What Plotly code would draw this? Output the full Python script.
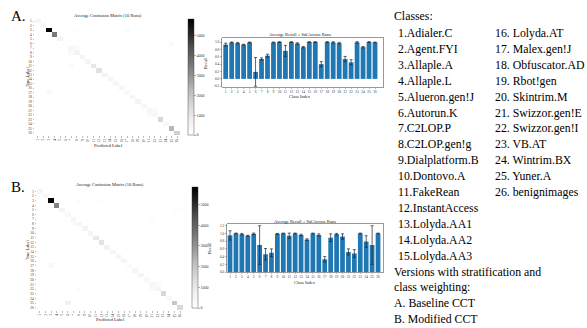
import numpy as np
import plotly.graph_objects as go

W, H = 587, 328

class_ids = list(range(1, 27))
class_names = ["Adialer.C", "Agent.FYI", "Allaple.A", "Allaple.L", "Alueron.gen!J",
               "Autorun.K", "C2LOP.P", "C2LOP.gen!g", "Dialplatform.B", "Dontovo.A",
               "FakeRean", "InstantAccess", "Lolyda.AA1", "Lolyda.AA2", "Lolyda.AA3",
               "Lolyda.AT", "Malex.gen!J", "Obfuscator.AD", "Rbot!gen", "Skintrim.M",
               "Swizzor.gen!E", "Swizzor.gen!I", "VB.AT", "Wintrim.BX", "Yuner.A",
               "benignimages"]

# confusion matrix diagonals (average counts)
diag_A = [500, 450, 5800, 3500, 550, 100, 450, 500, 550, 500, 1000, 1200, 600, 500, 450,
          500, 300, 450, 500, 350, 450, 400, 1500, 350, 2300, 1700]
diag_B = [500, 450, 5800, 3300, 550, 350, 450, 450, 550, 500, 1000, 1150, 600, 500, 450,
          500, 250, 450, 500, 350, 400, 400, 1500, 300, 1900, 1500]
# off-diagonal entries (true row, predicted col, count)
off_rows_A = [3, 3, 6, 7, 8, 11, 17, 21, 22, 7, 22]
off_cols_A = [17, 8, 25, 8, 7, 7, 3, 22, 21, 21, 8]
off_vals_A = [200, 120, 250, 200, 250, 200, 280, 220, 250, 120, 120]
off_rows_B = [3, 3, 6, 7, 8, 17, 21, 22, 25, 22, 5]
off_cols_B = [8, 12, 25, 21, 7, 3, 22, 21, 6, 8, 26]
off_vals_B = [150, 120, 120, 150, 200, 280, 200, 220, 700, 150, 120]

# recall per class (mean, std)
recall_A = [0.93, 0.99, 0.97, 0.93, 0.99, 0.19, 0.54, 0.63, 0.99, 1.00, 0.76, 1.00, 0.96,
            0.86, 1.00, 1.00, 0.40, 1.00, 0.99, 0.97, 0.54, 0.45, 0.99, 0.86, 1.00, 0.99]
std_A = [0.04, 0.01, 0.02, 0.01, 0.01, 0.39, 0.03, 0.04, 0.01, 0.01, 0.15, 0.01, 0.02,
         0.02, 0.01, 0.01, 0.07, 0.01, 0.02, 0.02, 0.07, 0.07, 0.02, 0.02, 0.01, 0.01]
recall_B = [0.95, 1.00, 0.98, 0.94, 0.99, 0.70, 0.46, 0.50, 0.99, 1.00, 0.94, 1.00, 0.96,
            0.84, 1.00, 0.96, 0.33, 0.89, 0.98, 0.92, 0.52, 0.48, 1.00, 0.79, 0.70, 1.00]
std_B = [0.12, 0.01, 0.02, 0.01, 0.02, 0.50, 0.15, 0.10, 0.01, 0.01, 0.07, 0.01, 0.02,
         0.02, 0.01, 0.03, 0.07, 0.10, 0.02, 0.07, 0.08, 0.10, 0.01, 0.15, 0.50, 0.01]

cb_ticks = [0, 1000, 2000, 3000, 4000, 5000]
recall_ticks_A = [-0.2, 0.0, 0.2, 0.4, 0.6, 0.8, 1.0]
recall_ticks_B = [0.0, 0.2, 0.4, 0.6, 0.8, 1.0, 1.2]


def build(diag, rows, cols, vals):
    m = np.zeros((26, 26))
    for i, v in enumerate(diag):
        m[i, i] = v
    for r, c, v in zip(rows, cols, vals):
        m[r - 1, c - 1] = v
    return m


cm_A = build(diag_A, off_rows_A, off_cols_A, off_vals_A)
cm_B = build(diag_B, off_rows_B, off_cols_B, off_vals_B)

greys = [[0, "#ffffff"], [0.125, "#f0f0f0"], [0.25, "#d9d9d9"], [0.375, "#bdbdbd"],
         [0.5, "#969696"], [0.625, "#737373"], [0.75, "#525252"], [0.875, "#252525"],
         [1, "#000000"]]

SERIF = "Liberation Serif"


def px(x):
    return x / W


def py(y):
    return 1 - y / H


fig = go.Figure()

# ---------- heatmaps ----------
hm_specs = [
    (cm_A, "x", "y", 188, 19, 135),
    (cm_B, "x3", "y3", 192, 187, 308),
]
for cm, xa, ya, cbx, cby0, cby1 in hm_specs:
    fig.add_trace(go.Heatmap(
        z=cm, x=class_ids, y=class_ids, xaxis=xa, yaxis=ya,
        colorscale=greys, zmin=0, zmax=5850,
        colorbar=dict(x=px(cbx), xanchor="left", y=py(cby0), yanchor="top",
                      len=(cby1 - cby0) / H, lenmode="fraction", thickness=6,
                      outlinewidth=0.4, outlinecolor="#333", ticks="outside",
                      ticklen=2, tickwidth=0.4, tickvals=cb_ticks,
                      tickfont=dict(size=4, family=SERIF, color="#333"), xpad=0, ypad=0),
        hoverinfo="skip",
    ))

# ---------- bar charts ----------
bar_specs = [
    (recall_A, std_A, "x2", "y2"),
    (recall_B, std_B, "x4", "y4"),
]
for rec, sd, xa, ya in bar_specs:
    fig.add_trace(go.Bar(
        x=class_ids, y=rec, xaxis=xa, yaxis=ya, width=0.8,
        marker=dict(color="#1f77b4", line=dict(width=0)),
        error_y=dict(type="data", array=sd, visible=True, color="#222",
                     thickness=0.7, width=1.5),
        showlegend=False, hoverinfo="skip",
    ))

tick_font = dict(size=3.5, family=SERIF, color="#333")
ax_common = dict(showgrid=False, zeroline=False, ticks="outside", ticklen=1.5,
                 tickwidth=0.4, tickcolor="#555", tickfont=tick_font)

layout_axes = {}
# heatmap A
layout_axes["xaxis"] = dict(domain=[px(35), px(180)], anchor="y", tickvals=class_ids,
                            ticktext=[str(c) for c in class_ids], tickangle=-90,
                            range=[0.5, 26.5], **ax_common)
layout_axes["yaxis"] = dict(domain=[py(135), py(19)], anchor="x", tickvals=class_ids,
                            ticktext=[str(c) for c in class_ids],
                            range=[26.5, 0.5], **ax_common)
# heatmap B
layout_axes["xaxis3"] = dict(domain=[px(37), px(183)], anchor="y3", tickvals=class_ids,
                             ticktext=[str(c) for c in class_ids], tickangle=-90,
                             range=[0.5, 26.5], **ax_common)
layout_axes["yaxis3"] = dict(domain=[py(310), py(189)], anchor="x3", tickvals=class_ids,
                             ticktext=[str(c) for c in class_ids],
                             range=[26.5, 0.5], **ax_common)
# bar A
frame = dict(showline=True, linecolor="#333", linewidth=0.5, mirror=True)
layout_axes["xaxis2"] = dict(domain=[px(222), px(383)], anchor="y2", tickvals=class_ids,
                             range=[0.38, 27.34], **frame, **ax_common)
layout_axes["yaxis2"] = dict(domain=[py(87), py(38)], anchor="x2", range=[-0.22, 1.11],
                             tickvals=recall_ticks_A,
                             ticktext=[f"{v:.1f}".replace("-", "\u2212") for v in recall_ticks_A],
                             **frame, **ax_common)
# bar B
layout_axes["xaxis4"] = dict(domain=[px(227), px(383)], anchor="y4", tickvals=class_ids,
                             range=[0.49, 26.84], **frame, **ax_common)
layout_axes["yaxis4"] = dict(domain=[py(272), py(224)], anchor="x4", range=[0, 1.245],
                             tickvals=recall_ticks_B,
                             ticktext=[f"{v:.1f}" for v in recall_ticks_B],
                             **frame, **ax_common)

annotations = []


def ann(text, x, y, size, anchor="center", angle=0, family=SERIF, color="#222"):
    annotations.append(dict(text=text, x=px(x), y=py(y), xref="paper", yref="paper",
                            xanchor=anchor, yanchor="middle", showarrow=False,
                            textangle=angle, borderpad=0,
                            font=dict(size=size, family=family, color=color)))


small = 4.5
# heatmap titles / labels
ann("Average Confusion Matrix (10 Runs)", 108, 15, small)
ann("Predicted Label", 108, 145, small)
ann("True Label", 27, 77, small, angle=-90)
ann("Average Confusion Matrix (10 Runs)", 110, 185, small)
ann("Predicted Label", 110, 319, small)
ann("True Label", 27, 250, small, angle=-90)
# bar titles / labels
ann("Average Recall \u00b1 Std Across Runs", 300, 35, small)
ann("Class Index", 300, 97, small)
ann("Recall", 205, 63, small, angle=-90)
ann("Average Recall \u00b1 Std Across Runs", 305, 221, small)
ann("Class Index", 305, 282, small)
ann("Recall", 209, 248, small, angle=-90)
# panel letters
ann("A.", 10, 16, 15, anchor="left", color="#000")
ann("B.", 10, 187, 15, anchor="left", color="#000")

# right text panel
TXT = 11.8
ann("Classes:", 393, 16, TXT, anchor="left", color="#000")
line0, step = 33, 15.9
for i, name in enumerate(class_names[:15]):
    ann(f"{i + 1}.{name}", 397, line0 + i * step, TXT, anchor="left", color="#000")
for i, name in enumerate(class_names[15:]):
    ann(f"{i + 16}. {name}", 494, line0 + i * step, TXT, anchor="left", color="#000")
tail = ["Versions with stratification and", "class weighting:",
        "A. Baseline CCT", "B. Modified CCT"]
for j, t in enumerate(tail):
    ann(t, 393, line0 + (15 + j) * step, TXT, anchor="left", color="#000")

fig.update_layout(
    width=W, height=H, margin=dict(l=0, r=0, t=0, b=0, autoexpand=False),
    paper_bgcolor="white", plot_bgcolor="white",
    showlegend=False, annotations=annotations, bargap=0.2,
    **layout_axes,
)

fig.write_html("out.html", config={"displayModeBar": False, "staticPlot": True},
               post_script="document.body.style.margin='0px';"
                           "document.body.style.overflow='hidden';")
